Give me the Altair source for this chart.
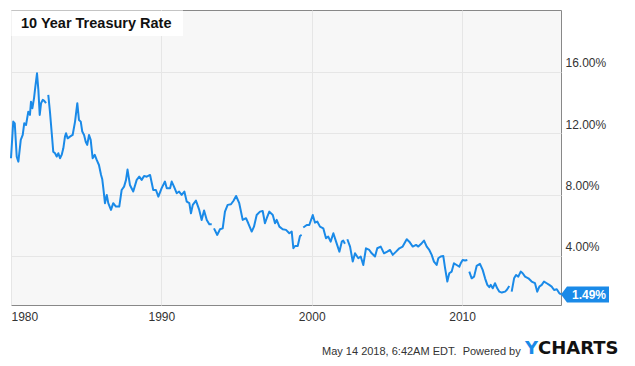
import altair as alt
import pandas as pd

# ---- data ----
years = [
    1980.00, 1980.15, 1980.25, 1980.38, 1980.49, 1980.65, 1980.78, 1980.88, 1981.00, 1981.15,
    1981.26, 1981.33, 1981.42, 1981.53, 1981.62, 1981.73, 1981.82, 1981.91, 1982.00, 1982.11,
    1982.21, 1982.33,
    1982.48, 1982.59, 1982.71, 1982.81, 1982.93, 1983.04, 1983.15, 1983.26, 1983.37, 1983.48,
    1983.59, 1983.66, 1983.77, 1983.92, 1984.10, 1984.26, 1984.41, 1984.52, 1984.64, 1984.74,
    1984.86, 1984.97, 1985.07, 1985.19, 1985.30, 1985.43, 1985.57, 1985.70, 1985.85, 1985.99,
    1986.07, 1986.14, 1986.25, 1986.37, 1986.47, 1986.65, 1986.80, 1986.98, 1987.20, 1987.36,
    1987.52, 1987.65, 1987.75, 1987.91, 1988.13, 1988.36, 1988.53, 1988.69, 1988.85, 1989.03,
    1989.25, 1989.46, 1989.64, 1989.80, 1990.02, 1990.24, 1990.36, 1990.58, 1990.69, 1990.84,
    1991.02, 1991.18, 1991.35, 1991.53, 1991.69, 1991.86, 1991.97, 1992.09, 1992.30, 1992.52,
    1992.68, 1992.84, 1993.02, 1993.19, 1993.35,
    1993.50, 1993.72, 1993.90, 1994.08, 1994.23, 1994.41, 1994.63, 1994.80, 1994.97, 1995.18,
    1995.41, 1995.63, 1995.78, 1996.01, 1996.16, 1996.34, 1996.56, 1996.74, 1996.89, 1997.01,
    1997.18, 1997.41, 1997.56, 1997.67, 1997.85, 1998.07, 1998.29, 1998.51, 1998.67, 1998.78,
    1998.89, 1999.07, 1999.22, 1999.33,
    1999.44, 1999.67, 1999.84, 2000.07, 2000.22, 2000.37, 2000.55, 2000.77, 2000.95, 2001.10,
    2001.26, 2001.44, 2001.62, 2001.84, 2002.00, 2002.10, 2002.21,
    2002.37, 2002.55, 2002.73, 2002.88, 2003.10, 2003.26, 2003.43, 2003.61, 2003.83, 2003.99,
    2004.21, 2004.36, 2004.59, 2004.81, 2005.03, 2005.21, 2005.39, 2005.61, 2005.83, 2006.05,
    2006.32, 2006.49, 2006.72, 2006.94, 2007.09, 2007.32, 2007.47, 2007.65, 2007.82, 2007.98,
    2008.13, 2008.31, 2008.42, 2008.58, 2008.75, 2008.87, 2009.02, 2009.15, 2009.31, 2009.46,
    2009.64, 2009.82, 2009.91, 2010.04, 2010.20, 2010.35,
    2010.48, 2010.64, 2010.80, 2010.97, 2011.19, 2011.37, 2011.53, 2011.68, 2011.81, 2011.91,
    2012.04, 2012.19, 2012.34, 2012.48, 2012.64, 2012.86, 2012.97, 2013.14,
    2013.30, 2013.46, 2013.59, 2013.74, 2013.90, 2014.03, 2014.19, 2014.41, 2014.63, 2014.85,
    2015.00, 2015.14, 2015.30, 2015.45, 2015.63, 2015.80, 2015.96, 2016.12, 2016.30, 2016.47,
    2016.58,
]
rates = [
    10.37, 12.76, 12.65, 10.48, 10.15, 11.57, 11.90, 12.65, 12.54, 13.41,
    13.20, 14.06, 13.63, 14.28, 15.04, 15.91, 14.83, 13.20, 13.96, 14.18,
    14.11, 13.96,
    14.50, 13.41, 12.00, 10.80, 10.70, 10.48, 10.70, 10.37, 10.59, 11.02,
    11.78, 12.00, 11.67, 11.78, 11.89, 12.76, 13.96, 12.87, 12.76, 12.11,
    11.89, 11.45, 11.24, 11.89, 11.57, 10.37, 10.59, 10.26, 9.93, 9.28,
    9.00, 8.42, 7.44, 7.98, 7.44, 7.00, 7.44, 7.22, 7.22, 8.30,
    8.52, 8.96, 9.63, 8.63, 8.20, 8.96, 9.17, 8.96, 9.22, 9.17,
    9.28, 8.30, 8.30, 7.87, 8.42, 8.85, 8.42, 8.42, 8.85, 8.52,
    8.09, 8.20, 7.98, 8.20, 7.54, 7.44, 6.78, 7.33, 7.61, 7.00,
    6.35, 6.96, 6.35, 6.06, 6.06,
    5.80, 5.37, 5.74, 5.80, 6.89, 7.33, 7.37, 7.60, 7.91, 7.44,
    6.35, 6.46, 6.13, 5.59, 5.91, 6.67, 6.89, 6.93, 6.13, 6.46,
    6.89, 6.67, 6.13, 6.35, 5.91, 5.74, 5.70, 5.48, 5.59, 4.50,
    4.65, 4.65, 5.30, 5.37,
    5.85, 6.02, 6.02, 6.67, 6.17, 6.24, 5.91, 5.80, 5.15, 5.26,
    4.93, 5.48, 4.93, 4.28, 4.93, 5.00, 4.80,
    5.09, 4.61, 3.63, 4.17, 3.85, 3.96, 3.41, 4.50, 4.39, 4.17,
    3.96, 4.50, 4.61, 4.17, 4.28, 4.39, 4.07, 4.28, 4.50, 4.61,
    5.09, 4.93, 4.61, 4.72, 4.61, 4.83, 5.00, 4.61, 4.39, 4.07,
    3.63, 3.41, 3.85, 3.96, 4.00, 3.20, 2.33, 2.87, 2.98, 3.52,
    3.41, 3.30, 3.52, 3.74, 3.70, 3.74,
    2.98, 2.54, 2.65, 3.35, 3.48, 3.09, 2.54, 2.11, 1.96, 2.11,
    1.89, 2.22, 1.89, 1.67, 1.61, 1.67, 1.78, 2.04,
    1.67, 2.54, 2.76, 2.65, 2.98, 2.87, 2.65, 2.54, 2.33, 2.22,
    1.67, 2.00, 2.11, 2.33, 2.22, 2.11, 2.00, 1.78, 1.83, 1.57,
    1.49,
]
# the line has small gaps right after these dates
breaks = [1982.33, 1993.35, 1999.33, 2002.21, 2010.35, 2013.14]

x_ticks = [1980, 1990, 2000, 2010]
y_ticks = [4, 8, 12, 16]
title_text = "10 Year Treasury Rate"
footer_text = "May 14 2018, 6:42AM EDT.\u00a0 Powered by"
logo_left = "Y"
logo_right = "CHARTS"

seg = [sum(1 for b in breaks if y > b + 1e-9) for y in years]
df = pd.DataFrame({"year": years, "rate": rates, "seg": seg})
last = pd.DataFrame({"year": [years[-1]], "rate": [rates[-1]],
                     "label": [f"{rates[-1]:.2f}%"]})
one = pd.DataFrame({"k": [0]})

BLUE = "#1a8ae8"
FONT = "Liberation Sans"

x_enc = alt.X(
    "year:Q",
    scale=alt.Scale(domain=[1980, 2016.58], nice=False, zero=False),
    axis=alt.Axis(values=x_ticks, format="d", title=None, grid=True,
                  gridColor="#e6e6e6", domain=False, ticks=False, labelFlush=True,
                  labelPadding=6, labelFontSize=12, labelColor="#333333",
                  labelFont=FONT),
)
y_enc = alt.Y(
    "rate:Q",
    scale=alt.Scale(domain=[0.8, 20.04], nice=False, zero=False),
    axis=alt.Axis(orient="right", values=y_ticks,
                  labelExpr="format(datum.value, '.2f') + '%'", title=None,
                  grid=True, gridColor="#e6e6e6", domain=False, ticks=False,
                  labelAlign="left", labelBaseline="alphabetic", labelOffset=-5,
                  labelPadding=4, labelFontSize=12, labelColor="#333333",
                  labelFont=FONT),
)

line = alt.Chart(df).mark_line(color=BLUE, strokeWidth=2, strokeJoin="round").encode(
    x=x_enc, y=y_enc, detail="seg:N"
)

title_box = alt.Chart(one).mark_rect(fill="white").encode(
    x=alt.value(0.5), x2=alt.value(172), y=alt.value(0.5), y2=alt.value(26)
)
title_txt = alt.Chart(one).mark_text(
    align="left", baseline="alphabetic", font=FONT, fontSize=14.5,
    fontWeight="bold", color="#111111", text=title_text
).encode(x=alt.value(10), y=alt.value(18.3))

tag = alt.Chart(last).mark_point(
    shape="M0,0 L0.25,-0.333 L2,-0.333 L2,0.333 L0.25,0.333 Z",
    size=2304, filled=True, fill=BLUE, opacity=1, strokeWidth=0
).encode(x=x_enc, y=y_enc)
tag_txt = alt.Chart(last).mark_text(
    align="left", baseline="middle", dx=11, dy=1, font=FONT, fontSize=12,
    fontWeight="bold", color="white"
).encode(x=x_enc, y=y_enc, text="label:N")

footer = alt.Chart(one).mark_text(
    align="left", baseline="alphabetic", font=FONT, fontSize=11,
    color="#333333", text=footer_text
).encode(x=alt.value(311), y=alt.value(345))
logo1 = alt.Chart(one).mark_text(
    align="left", baseline="alphabetic", font="DejaVu Sans", fontSize=18,
    fontWeight="bold", color=BLUE, text=logo_left
).encode(x=alt.value(514), y=alt.value(343.5))
logo2 = alt.Chart(one).mark_text(
    align="left", baseline="alphabetic", font="DejaVu Sans", fontSize=18,
    fontWeight="bold", color="#111111", text=logo_right
).encode(x=alt.value(527), y=alt.value(343.5))

chart = alt.layer(
    line, title_box, title_txt, tag, tag_txt, footer, logo1, logo2
).properties(
    width=550, height=295,
    autosize=alt.AutoSizeParams(type="none"),
    padding={"left": 3, "top": 2, "right": 66, "bottom": 53},
    background="white",
).configure_view(fill="#f7f7f7", stroke="#888888", strokeWidth=1)

chart.save("out.html", embed_options={"renderer": "svg", "actions": False})
